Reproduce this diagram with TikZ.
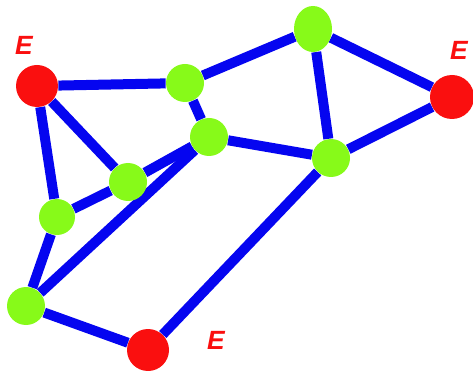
\documentclass[tikz,border=0pt]{standalone}
\usepackage{fontspec}
\setmainfont{Liberation Sans}
\usetikzlibrary{shapes.geometric,backgrounds}
\definecolor{edgeblue}{RGB}{5,5,240}
\definecolor{vgreen}{RGB}{135,250,25}
\definecolor{vred}{RGB}{250,15,15}
\newlength{\unitpx}
\setlength{\unitpx}{0.02cm}
\tikzset{
  vert/.style={circle,inner sep=0pt,minimum size=38\unitpx},
  gv/.style={vert,fill=vgreen},
  rv/.style={vert,fill=vred,minimum size=42\unitpx},
  elabel/.style={text=vred,font=\bfseries\itshape\fontsize{15}{15}\selectfont}
}
\begin{document}
\begin{tikzpicture}[x=0.02cm, y=-0.02cm]
\useasboundingbox (0,0) rectangle (473,371);

\node[rv] (rtl) at (37,86) {};
\node[gv] (gtm) at (185,83) {};
\node[gv,ellipse,minimum width=38\unitpx,minimum height=46\unitpx] (gtr) at (313,29) {};
\node[rv,minimum size=44\unitpx] (rr) at (452,97) {};
\node[gv] (gm) at (209,137) {};
\node[gv] (grm) at (331,158) {};
\node[gv] (gc) at (128,182) {};
\node[gv,minimum size=36\unitpx] (gl) at (57,217) {};
\node[gv] (gbl) at (26,306) {};
\node[rv] (rb) at (148,350) {};

\begin{pgfonlayer}{background}
\begin{scope}[draw=edgeblue,line width=10\unitpx]
\draw (rtl) -- (gtm);
\draw (rtl) -- (gc);
\draw (rtl) -- (gl);
\draw (gtm) -- (gtr);
\draw (gtm) -- (gm);
\draw (gtr) -- (rr);
\draw (gtr) -- (grm);
\draw (rr) -- (grm);
\draw (gm) -- (grm);
\draw (gm) -- (gc);
\draw (gm) -- (gbl);
\draw (gc) -- (gl);
\draw (gl) -- (gbl);
\draw (gbl) -- (rb);
\draw (grm) -- (rb);
\end{scope}
\end{pgfonlayer}

\node[elabel] (e1) at (24,45) {E};
\node[elabel] (e2) at (459,50) {E};
\node[elabel] (e3) at (216,340) {E};

\end{tikzpicture}
\end{document}
